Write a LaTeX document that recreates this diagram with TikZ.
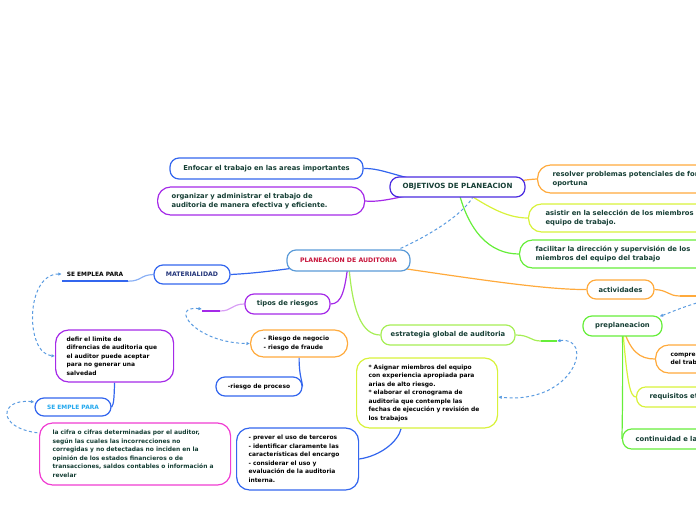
\documentclass[tikz,border=0pt]{standalone}
\usepackage{fontspec}
\setmainfont{DejaVu Sans}
\usetikzlibrary{calc,arrows.meta}
\pgfdeclarelayer{bg}
\pgfsetlayers{bg,main}
\definecolor{tg}{HTML}{163F35}
\definecolor{cblue}{HTML}{3366EE}
\definecolor{cpurple}{HTML}{A52AE8}
\definecolor{cindigo}{HTML}{4A2BE0}
\definecolor{corange}{HTML}{FFAA3C}
\definecolor{cyellow}{HTML}{D8F23A}
\definecolor{cgreen}{HTML}{66EE3A}
\definecolor{clgreen}{HTML}{A6EE55}
\definecolor{cplan}{HTML}{5B9BD8}
\definecolor{ccrim}{HTML}{C8163C}
\definecolor{cmat}{HTML}{23357A}
\definecolor{csky}{HTML}{22A8EE}
\definecolor{cmag}{HTML}{F03CD2}
\definecolor{cdash}{HTML}{5A9BE0}
\definecolor{clpurple}{HTML}{D9A0F5}
\definecolor{clblue}{HTML}{8AB0F5}
\newcommand{\ftitle}{\fontsize{6.8}{8.6}\selectfont\bfseries}
\newcommand{\fobj}{\fontsize{7.1}{8.6}\selectfont\bfseries}
\newcommand{\fbody}{\fontsize{5.95}{8.5}\selectfont\bfseries}
\newcommand{\fcap}{\fontsize{6.2}{8}\selectfont\bfseries}
\newcommand{\fsmcap}{\fontsize{5.9}{8}\selectfont\bfseries}
\begin{document}
\begin{tikzpicture}[x=1pt,y=-1pt,
  box/.style={draw, rounded corners=9pt, fill=white, line width=1.2pt, inner sep=0pt, align=left},
  bigbox/.style={box, rounded corners=13pt},
  title/.style={font=\ftitle, text=tg},
  body/.style={font=\fbody, text=black},
  conn/.style={line width=1.2pt},
  dashc/.style={cdash, line width=1pt, dash pattern=on 3pt off 2.5pt},
  tip/.style={{Latex[length=3.5pt,width=3.5pt]}-{Latex[length=3.5pt,width=3.5pt]}},
  ltip/.style={{Latex[length=3.5pt,width=3.5pt]}-},
  stub/.style={line width=1.8pt}]
\useasboundingbox (0,0) rectangle (696,520);

% nodes
\node[box, title, draw=cblue, minimum width=193pt, minimum height=21pt] (enf) at (266.5,168.5) {Enfocar el trabajo en las areas importantes};
\node[bigbox, title, draw=cpurple, anchor=west, inner xsep=14pt, text width=179pt, minimum height=28pt] (org) at (157,201) {organizar y administrar el trabajo de\\auditoria de manera efectiva y eficiente.};
\node[box, draw=cindigo, font=\fobj, text=tg, minimum width=135pt, minimum height=20pt] (obj) at (457.5,187) {OBJETIVOS DE PLANEACION};
\node[bigbox, title, draw=corange, anchor=west, inner xsep=15pt, text width=200pt, minimum height=28pt] (res) at (537,179) {resolver problemas potenciales de forma\\oportuna};
\node[bigbox, title, draw=cyellow, anchor=west, inner xsep=17pt, text width=200pt, minimum height=28pt] (asi) at (528,218) {asistir en la selección de los miembros del\\equipo de trabajo.};
\node[bigbox, title, draw=cgreen, anchor=west, inner xsep=16pt, text width=210pt, minimum height=28pt] (fac) at (519,254) {facilitar la dirección y supervisión de los\\miembros del equipo del trabajo};
\node[box, draw=cplan, font=\fcap, text=ccrim, minimum width=123pt, minimum height=21pt] (plan) at (348.5,260.5) {PLANEACION DE AUDITORIA};
\node[box, draw=cblue, font=\fcap, text=cmat, minimum width=76pt, minimum height=19pt] (mat) at (192,274.5) {MATERIALIDAD};
\node[font=\fsmcap, text=black, inner sep=0pt, minimum width=66pt, minimum height=14pt] (seemp) at (95,274) {SE EMPLEA PARA};
\node[box, title, draw=cpurple, minimum width=85pt, minimum height=20pt] (tip) at (287.5,304) {tipos de riesgos};
\node[bigbox, body, draw=corange, anchor=west, inner xsep=13pt, text width=71pt, minimum height=27pt] (rie) at (250,343.5) {- Riesgo de negocio\\- riesgo de fraude};
\node[box, body, draw=cblue, minimum width=86pt, minimum height=19pt] (pro) at (259,386.5) {-riesgo de proceso};
\node[bigbox, body, draw=cpurple, anchor=west, inner xsep=11pt, text width=96pt, minimum height=52pt] (def) at (55,356) {defir el limite de\\difrencias de auditoria que\\el auditor puede aceptar\\para no generar una\\salvedad};
\node[box, draw=cblue, font=\fsmcap, text=csky, minimum width=76pt, minimum height=18pt] (sep) at (73,407) {SE EMPLE PARA};
\node[bigbox, body, text=tg, draw=cmag, anchor=west, inner xsep=13pt, text width=165pt, minimum height=62pt] (cif) at (39,454) {la cifra o cifras determinadas por el auditor,\\según las cuales las incorrecciones no\\corregidas y no detectadas no inciden en la\\opinión de los estados financieros o de\\transacciones, saldos contables o información a\\revelar};
\node[box, title, draw=clgreen, minimum width=134pt, minimum height=20pt] (est) at (448,335) {estrategia global de auditoria};
\node[bigbox, body, draw=cyellow, anchor=west, inner xsep=12pt, text width=117pt, minimum height=70pt] (asg) at (356,393) {* Asignar miembros del equipo\\con experiencia apropiada para\\arias de alto riesgo.\\{}* elaborar el cronograma de\\auditoria que contemple las\\fechas de ejecución y revisión de\\los trabajos};
\node[bigbox, body, draw=cblue, anchor=west, inner xsep=12pt, text width=98pt, minimum height=62pt] (pre) at (236,459) {- prever el uso de terceros\\- identificar claramente las\\características del encargo\\- considerar el uso y\\evaluación de la auditoria\\interna.};
\node[box, title, draw=corange, minimum width=67pt, minimum height=19pt] (act) at (620.5,289.5) {actividades};
\node[box, title, draw=cgreen, minimum width=79pt, minimum height=20pt] (prep) at (622.5,326) {preplaneacion};
\node[bigbox, body, draw=corange, anchor=west, inner xsep=15pt, text width=100pt, minimum height=28pt] (com) at (655,359) {comprensión\\del trabajo};
\node[box, title, draw=cyellow, anchor=west, inner xsep=13pt, text width=100pt, minimum height=20pt] (req) at (636,397) {requisitos eticos};
\node[box, title, draw=cgreen, anchor=west, inner xsep=13pt, text width=120pt, minimum height=20pt] (con) at (622,439) {continuidad e la relación};

\coordinate (stubL) at (202,311);
\coordinate (stubR) at (220,311);
\coordinate (stub2L) at (541,341);
\coordinate (stub2R) at (557,341);
\coordinate (actR1) at (680,296);
\coordinate (actR2) at (720,296);
\coordinate (offdash) at (725,297);

\begin{pgfonlayer}{bg}
\draw[conn, cblue] (enf.east) .. controls (385,168) and (400,180) .. (obj.center);
\draw[conn, cpurple] (org.east) .. controls (385,203) and (405,194) .. (obj.center);
\draw[conn, corange] (obj.center) .. controls (500,187) and (515,180) .. (res.west);
\draw[conn, cyellow] (obj.center) .. controls (485,205) and (505,218) .. (asi.west);
\draw[conn, cgreen] (obj.center) .. controls (468,232) and (490,254) .. (fac.west);
\draw[dashc] ($(plan.north)+(52,-1)$) .. controls (430,235) and (462,215) .. ($(obj.south)+(15,0)$);
\draw[conn, cblue] (mat.east) .. controls (260,273) and (280,270) .. (plan.center);
\draw[conn, clblue] (mat.west) .. controls (140,275) and (142,281) .. (seemp.south east);
\draw[stub, cblue] (seemp.south west) -- (seemp.south east);
\draw[conn, cpurple] (plan.center) .. controls (345,290) and (342,304) .. (tip.east);
\draw[conn, clgreen] (plan.center) .. controls (352,312) and (362,335) .. (est.west);
\draw[conn, corange] (plan.center) .. controls (450,275) and (540,290) .. (act.west);
\draw[conn, corange] (act.east) .. controls (668,290) and (668,296) .. (actR1);
\draw[stub, corange] (actR1) -- (actR2);
\draw[conn, corange] (prep.center) .. controls (630,352) and (640,359) .. (com.west);
\draw[conn, cyellow] (prep.center) .. controls (627,382) and (630,397) .. (req.west);
\draw[conn, cgreen] (prep.center) .. controls (623,400) and (622,430) .. (con.west);
\draw[conn, clpurple] (tip.west) .. controls (232,304) and (232,311) .. (stubR);
\draw[stub, cpurple] (stubL) -- (stubR);
\draw[conn, cblue] (def.south) .. controls (114,398) and (114,404) .. (sep.east);
\draw[conn, cblue] (rie.south) .. controls (299,375) and (302,380) .. (pro.east);
\draw[conn, clgreen] (est.east) .. controls (530,335) and (530,341) .. (stub2L);
\draw[stub, cgreen] (stub2L) -- (stub2R);
\draw[conn, cblue] (pre.east) .. controls (380,456) and (398,442) .. ($(asg.south)+(-26,0)$);
\end{pgfonlayer}

% dashed links
\draw[dashc, tip] ($(stubL)+(0,-2)$) .. controls (168,305) and (195,343) .. (rie.west);
\draw[dashc, tip] (seemp.west) .. controls (25,274) and (25,354) .. (def.west);
\draw[dashc, ltip] ($(sep.west)+(0,-5)$) .. controls (0,398) and (-5,428) .. ($(cif.west)+(0,-21)$);
\draw[dashc, tip] (stub2R) .. controls (595,336) and (575,405) .. ($(asg.east)+(0,4)$);
\draw[dashc, ltip] ($(prep.north east)+(-3,1)$) .. controls (672,312) and (695,301) .. (offdash);
\end{tikzpicture}
\end{document}
